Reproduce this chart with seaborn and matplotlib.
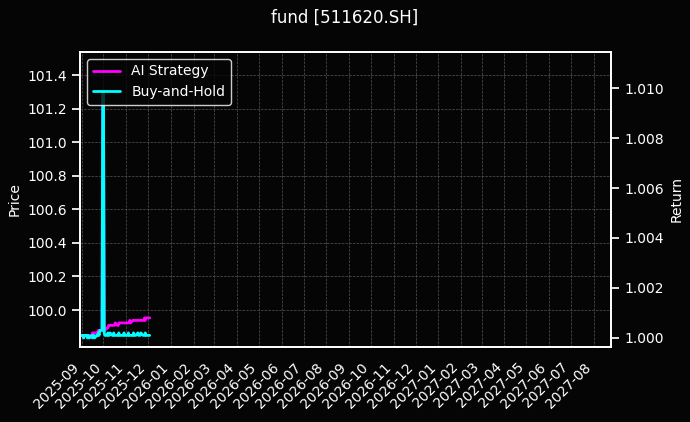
import pandas as pd
import numpy as np
import matplotlib.pyplot as plt
import matplotlib.dates as mdates
import seaborn as sns

sns.set_theme(style="dark")
plt.style.use("dark_background")
plt.rcParams.update({"font.size": 10, "axes.labelsize": 10, "xtick.labelsize": 10,
                     "ytick.labelsize": 10, "legend.fontsize": 10,
                     "figure.titlesize": 12, "font.family": ["DejaVu Sans"]})

# Trading days shown in the chart
dates = pd.bdate_range("2025-09-01", "2025-12-03")

ai_strategy = [
    1.0001, 1.0001, 1.0001, 1.0000, 1.0001, 1.0001, 1.0001, 1.0001, 1.0001, 1.0001,
    1.0001, 1.0002, 1.0002, 1.0002, 1.0002, 1.0002, 1.0002, 1.0003, 1.0003, 1.0003,
    1.0003, 1.0098, 1.0098, 1.0003, 1.0003, 1.0004, 1.0004, 1.0005, 1.0005, 1.0005,
    1.0005, 1.0005, 1.0005, 1.0005, 1.0006, 1.0005, 1.0005, 1.0006, 1.0006, 1.0006,
    1.0006, 1.0006, 1.0006, 1.0006, 1.0006, 1.0006, 1.0006, 1.0006, 1.0007, 1.0006,
    1.0007, 1.0007, 1.0007, 1.0007, 1.0007, 1.0007, 1.0007, 1.0007, 1.0007, 1.0007,
    1.0007, 1.0007, 1.0008, 1.0007, 1.0008, 1.0008, 1.0008, 1.0008,
]
buy_and_hold = [
    1.0001, 1.0001, 1.0001, 1.0000, 1.0001, 1.0001, 1.0000, 1.0001, 1.0000, 1.0000,
    1.0001, 1.0000, 1.0001, 1.0001, 1.0000, 1.0001, 1.0001, 1.0002, 1.0001, 1.0003,
    1.0003, 1.0098, 1.0098, 1.0002, 1.0001, 1.0001, 1.0002, 1.0001, 1.0001, 1.0002,
    1.0001, 1.0001, 1.0002, 1.0001, 1.0001, 1.0001, 1.0001, 1.0002, 1.0001, 1.0001,
    1.0001, 1.0001, 1.0002, 1.0001, 1.0001, 1.0001, 1.0002, 1.0001, 1.0001, 1.0001,
    1.0001, 1.0002, 1.0001, 1.0001, 1.0001, 1.0002, 1.0001, 1.0001, 1.0001, 1.0002,
    1.0001, 1.0001, 1.0001, 1.0002, 1.0001, 1.0001, 1.0001, 1.0001,
]
n = min(len(dates), len(ai_strategy))
df = pd.DataFrame({"date": dates[:n], "AI Strategy": ai_strategy[:n],
                   "Buy-and-Hold": buy_and_hold[:n]})

fig, ax = plt.subplots(figsize=(6.9, 4.22), dpi=100)
fig.patch.set_facecolor("#050505")
ax.set_facecolor("#050505")
ax2 = ax.twinx()

sns.lineplot(data=df, x="date", y="AI Strategy", ax=ax2, color="#ff00ff",
             linewidth=2, label="AI Strategy")
sns.lineplot(data=df, x="date", y="Buy-and-Hold", ax=ax2, color="#00ffff",
             linewidth=2, label="Buy-and-Hold")

ax.set_ylim(99.78, 101.54)
ax.set_yticks(np.arange(100.0, 101.41, 0.2))
ax.set_ylabel("Price")
ax2.set_ylim(0.99964, 1.01145)
ax2.set_yticks(np.arange(1.000, 1.0101, 0.002))
ax2.yaxis.set_major_formatter(plt.FormatStrFormatter("%.3f"))
ax2.set_ylabel("Return")
ax2.set_xlabel("")

ax.set_xlim(pd.Timestamp("2025-08-30"), pd.Timestamp("2027-08-25"))
ax.xaxis.set_major_locator(mdates.MonthLocator())
ax.xaxis.set_major_formatter(mdates.DateFormatter("%Y-%m"))
plt.setp(ax.get_xticklabels(), rotation=45, ha="right")
ax.grid(True, color="#555555", linestyle="--", linewidth=0.5)

leg = ax2.legend(loc="upper left", facecolor="#050505", edgecolor="white")
for s in list(ax.spines.values()) + list(ax2.spines.values()):
    s.set_color("white")

fig.suptitle("fund [511620.SH]")
fig.subplots_adjust(left=0.116, right=0.886, top=0.877, bottom=0.178)
fig.savefig("out.png", dpi=100, facecolor=fig.get_facecolor())
